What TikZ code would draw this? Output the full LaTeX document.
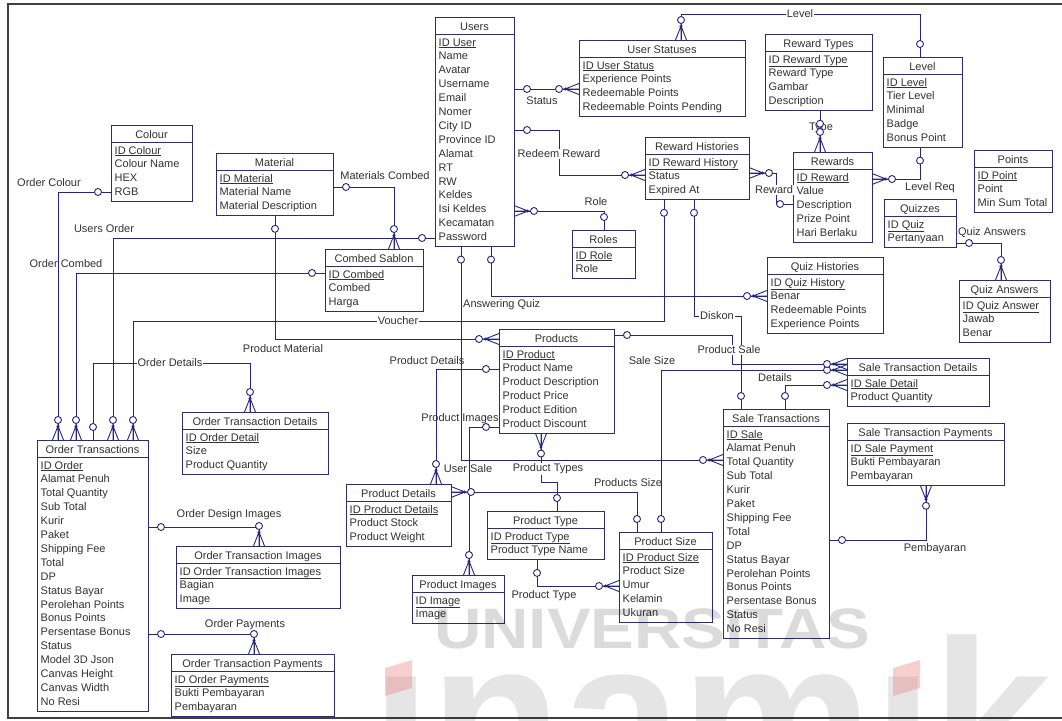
\documentclass[tikz,border=0pt]{standalone}
\usepackage{fontspec}
\setmainfont{Liberation Sans}
\usetikzlibrary{calc}

\definecolor{lc}{RGB}{38,38,130}
\definecolor{ec}{RGB}{45,45,115}
\definecolor{tx}{RGB}{50,50,50}
\definecolor{wmred}{RGB}{235,120,120}

\tikzset{
  ebox/.style={draw=ec,fill=white,line width=1pt,inner sep=0pt,outer sep=0pt},
  erule/.style={draw=ec,line width=1pt},
  etitle/.style={font=\fontsize{11}{13}\selectfont,text=tx,inner sep=0pt},
  erow/.style={font=\fontsize{11}{13}\selectfont,text=tx,inner sep=0pt},
  rel/.style={draw=lc,line width=0.9pt},
  lbl/.style={font=\fontsize{11}{13}\selectfont,text=tx,inner sep=1pt},
  lblw/.style={lbl,fill=white},
  wmtext/.style={text=black,text opacity=0.14,inner sep=0pt,anchor=base west},
  one/.pic={\draw[rel] (0pt,0pt)--(9.5pt,0pt);
            \draw[rel,fill=white] (13pt,0pt) circle[radius=3.5pt];},
  many/.pic={\draw[rel] (0pt,5.5pt)--(14pt,0pt)--(0pt,-5.5pt) (0pt,0pt)--(16.5pt,0pt);
             \fill[lc] (13.5pt,0pt) circle[radius=1.7pt];
             \draw[rel,fill=white] (20pt,0pt) circle[radius=3.5pt];},
}

% \entity{name}{x}{top}{width}{rows}{title}{key}{other attributes}
\newcommand\entity[8]{%
  \pgfmathsetmacro\entH{35+(#5-1)*13.9}%
  \node[ebox,minimum width=#4pt,minimum height=\entH pt,anchor=north west] (#1) at (#2,#3) {};
  \draw[erule] ($(#1.north west)+(0,17)$) -- ($(#1.north east)+(0,17)$);
  \node[etitle,anchor=base] (#1-title) at ($(#1.north)+(0,13)$) {#6};
  \node[erow,anchor=base west] (#1-key) at ($(#1.north west)+(3.5,29)$) {\underline{#7}};
  \foreach \r [count=\i] in {#8} {
    \node[erow,anchor=base west] (#1-row\i) at ($(#1.north west)+(3.5,29+\i*13.9)$) {\r};
  }%
}

\begin{document}
\begin{tikzpicture}[x=1pt,y=-1pt]
\useasboundingbox (0,0) rectangle (1062,720);
\fill[white] (0,0) rectangle (1062,720);

% frame (its right side lies beyond the page)
\draw[line width=2pt,draw=black!75] (1070,4) -- (8,4) -- (8,718) -- (1070,718);

% ---------- entities ----------
\entity{colour}{111}{125}{81}{4}{Colour}{ID Colour}{Colour Name,HEX,RGB}
\entity{users}{435}{17}{79}{15}{Users}{ID User}{Name,Avatar,Username,Email,Nomer,City ID,Province ID,Alamat,RT,RW,Keldes,Isi Keldes,Kecamatan,Password}
\entity{ustat}{579}{40}{166}{4}{User Statuses}{ID User Status}{Experience Points,Redeemable Points,Redeemable Points Pending}
\entity{rtypes}{765}{34}{107}{4}{Reward Types}{ID Reward Type}{Reward Type,Gambar,Description}
\entity{level}{883}{57}{79}{5}{Level}{ID Level}{Tier Level,Minimal,Badge,Bonus Point}
\entity{rewards}{793}{152}{79}{5}{Rewards}{ID Reward}{Value,Description,Prize Point,Hari Berlaku}
\entity{rhist}{645}{137}{104}{3}{Reward Histories}{ID Reward History}{Status,Expired At}
\entity{points}{974}{150}{78}{3}{Points}{ID Point}{Point,Min Sum Total}
\entity{quizzes}{884}{199}{72}{2}{Quizzes}{ID Quiz}{Pertanyaan}
\entity{roles}{572}{230}{63}{2}{Roles}{ID Role}{Role}
\entity{material}{216}{153}{117}{3}{Material}{ID Material}{Material Name,Material Description}
\entity{combed}{325}{249}{98}{3}{Combed Sablon}{ID Combed}{Combed,Harga}
\entity{otrans}{37}{440}{111}{18}{Order Transactions}{ID Order}{Alamat Penuh,Total Quantity,Sub Total,Kurir,Paket,Shipping Fee,Total,DP,Status Bayar,Perolehan Points,Bonus Points,Persentase Bonus,Status,Model 3D Json,Canvas Height,Canvas Width,No Resi}
\entity{otd}{182}{412}{146}{3}{Order Transaction Details}{ID Order Detail}{Size,Product Quantity}
\entity{oti}{176}{546}{164}{3}{Order Transaction Images}{ID Order Transaction Images}{Bagian,Image}
\entity{otp}{171}{654}{163}{3}{Order Transaction Payments}{ID Order Payments}{Bukti Pembayaran,Pembayaran}
\entity{products}{499}{329}{115}{6}{Products}{ID Product}{Product Name,Product Description,Product Price,Product Edition,Product Discount}
\entity{pdet}{346}{484}{105}{3}{Product Details}{ID Product Details}{Product Stock,Product Weight}
\entity{ptype}{487}{511}{117}{2}{Product Type}{ID Product Type}{Product Type Name}
\entity{pimg}{412}{575}{92}{2}{Product Images}{ID Image}{Image}
\entity{psize}{619}{532}{93}{5}{Product Size}{ID Product Size}{Product Size,Umur,Kelamin,Ukuran}
\entity{strans}{723}{409}{106}{15}{Sale Transactions}{ID Sale}{Alamat Penuh,Total Quantity,Sub Total,Kurir,Paket,Shipping Fee,Total,DP,Status Bayar,Perolehan Points,Bonus Points,Persentase Bonus,Status,No Resi}
\entity{std}{847}{358}{142}{2}{Sale Transaction Details}{ID Sale Detail}{Product Quantity}
\entity{stp}{847}{423}{157}{3}{Sale Transaction Payments}{ID Sale Payment}{Bukti Pembayaran,Pembayaran}
\entity{qhist}{767}{257}{116}{4}{Quiz Histories}{ID Quiz History}{Benar,Redeemable Points,Experience Points}
\entity{qans}{959}{280}{91}{3}{Quiz Answers}{ID Quiz Answer}{Jawab,Benar}

% ---------- relationships ----------
\draw[rel] (681,0 |- ustat.north) -- (681,14) -- (920,14) -- (920,0 |- level.north);
\draw[rel] (users.east |- 0,89) -- (ustat.west |- 0,89);
\draw[rel] (users.east |- 0,130) -- (559,130) -- (559,175) -- (rhist.west |- 0,175);
\draw[rel] (users.east |- 0,211) -- (604,211) -- (604,0 |- roles.north);
\draw[rel] (820,0 |- rtypes.south) -- (820,0 |- rewards.north);
\draw[rel] (rhist.east |- 0,173) -- (776,173) -- (776,204) -- (rewards.west |- 0,204);
\draw[rel] (920,0 |- level.south) -- (920,179) -- (rewards.east |- 0,179);
\draw[rel] (quizzes.east |- 0,243) -- (1001,243) -- (1001,0 |- qans.north);
\draw[rel] (material.east |- 0,187) -- (394,187) -- (394,0 |- combed.north);
\draw[rel] (users.west |- 0,238) -- (113,238) -- (113,0 |- otrans.north);
\draw[rel] (colour.west |- 0,192) -- (58,192) -- (58,0 |- otrans.north);
\draw[rel] (combed.west |- 0,273) -- (76,273) -- (76,0 |- otrans.north);
\draw[rel] (664,0 |- rhist.south) -- (664,321) -- (133,321) -- (133,0 |- otrans.north);
\draw[rel] (694,0 |- rhist.south) -- (694,316) -- (741,316) -- (741,0 |- strans.north);
\draw[rel] (491,0 |- users.south) -- (491,296) -- (qhist.west |- 0,296);
\draw[rel] (461,0 |- users.south) -- (461,460) -- (strans.west |- 0,460);
\draw[rel] (275,0 |- material.south) -- (275,339) -- (products.west |- 0,339);
\draw[rel] (93,0 |- otrans.north) -- (93,363) -- (250,363) -- (250,0 |- otd.north);
\draw[rel] (otrans.east |- 0,527) -- (259,527) -- (259,0 |- oti.north);
\draw[rel] (otrans.east |- 0,634) -- (254,634) -- (254,0 |- otp.north);
\draw[rel] (products.west |- 0,369) -- (436,369) -- (436,0 |- pdet.north);
\draw[rel] (products.west |- 0,427) -- (469,427) -- (469,0 |- pimg.north);
\draw[rel] (pdet.east |- 0,492) -- (637,492) -- (637,0 |- psize.north);
\draw[rel] (541,0 |- products.south) -- (541,482) -- (557,482) -- (557,0 |- ptype.north);
\draw[rel] (537,0 |- ptype.south) -- (537,586) -- (psize.west |- 0,586);
\draw[rel] (661,0 |- psize.north) -- (661,370) -- (std.west |- 0,370);
\draw[rel] (products.east |- 0,335) -- (732,335) -- (732,364) -- (std.west |- 0,364);
\draw[rel] (785,0 |- strans.north) -- (785,385) -- (std.west |- 0,385);
\draw[rel] (strans.east |- 0,540) -- (926,540) -- (926,0 |- stp.south);

% ---------- relationship names ----------
\node[lblw] (l-level) at (800,14) {Level};
\node[lbl] (l-status) at (542,101) {Status};
\node[lblw] (l-redeem) at (559,154) {Redeem Reward};
\node[lbl] (l-role) at (596,202) {Role};
\node[lbl] (l-type) at (821,128) {Type};
\node[lblw] (l-reward) at (774,190) {Reward};
\node[lbl] (l-levelreq) at (930,188) {Level Req};
\node[lbl] (l-qans) at (992,233) {Quiz Answers};
\node[lbl] (l-matc) at (385,176) {Materials Combed};
\node[lbl] (l-uorder) at (104,229) {Users Order};
\node[lbl] (l-ocolour) at (49,183) {Order Colour};
\node[lbl] (l-ocombed) at (66,264) {Order Combed};
\node[lblw] (l-voucher) at (398,321) {Voucher};
\node[lblw] (l-diskon) at (717,316) {Diskon};
\node[lbl,anchor=west] (l-aquiz) at (462,305) {Answering Quiz};
\node[lbl] (l-usale) at (468,469) {User Sale};
\node[lbl] (l-pmat) at (283,349) {Product Material};
\node[lblw] (l-odet) at (170,363) {Order Details};
\node[lbl] (l-odimg) at (229,515) {Order Design Images};
\node[lbl] (l-opay) at (245,625) {Order Payments};
\node[lbl] (l-pdet) at (427,361) {Product Details};
\node[lbl] (l-pimg) at (460,419) {Product Images};
\node[lbl] (l-psize) at (628,483) {Products Size};
\node[lblw] (l-ptypes) at (548,469) {Product Types};
\node[lbl] (l-ptype) at (544,596) {Product Type};
\node[lbl] (l-ssize) at (652,361) {Sale Size};
\node[lblw] (l-psale) at (729,350) {Product Sale};
\node[lbl] (l-details) at (775,378) {Details};
\node[lbl] (l-pemb) at (935,549) {Pembayaran};

% ---------- cardinality marks ----------
\pic[rotate=90] at (681,0 |- ustat.north) {many};
\pic[rotate=90] at (920,0 |- level.north) {one};
\pic at (users.east |- 0,89) {one};
\pic[rotate=180] at (ustat.west |- 0,89) {many};
\pic at (users.east |- 0,130) {one};
\pic[rotate=180] at (rhist.west |- 0,175) {many};
\pic at (users.east |- 0,211) {many};
\pic[rotate=90] at (604,0 |- roles.north) {one};
\pic[rotate=-90] at (820,0 |- rtypes.south) {one};
\pic[rotate=90] at (820,0 |- rewards.north) {many};
\pic at (rhist.east |- 0,173) {many};
\pic[rotate=180] at (rewards.west |- 0,204) {one};
\pic[rotate=-90] at (920,0 |- level.south) {one};
\pic at (rewards.east |- 0,179) {many};
\pic at (quizzes.east |- 0,243) {one};
\pic[rotate=90] at (1001,0 |- qans.north) {many};
\pic at (material.east |- 0,187) {one};
\pic[rotate=90] at (394,0 |- combed.north) {many};
\pic[rotate=180] at (users.west |- 0,238) {one};
\pic[rotate=90] at (113,0 |- otrans.north) {many};
\pic[rotate=180] at (colour.west |- 0,192) {one};
\pic[rotate=90] at (58,0 |- otrans.north) {many};
\pic[rotate=180] at (combed.west |- 0,273) {one};
\pic[rotate=90] at (76,0 |- otrans.north) {many};
\pic[rotate=-90] at (664,0 |- rhist.south) {one};
\pic[rotate=90] at (133,0 |- otrans.north) {many};
\pic[rotate=-90] at (694,0 |- rhist.south) {one};
\pic[rotate=90] at (741,0 |- strans.north) {one};
\pic[rotate=-90] at (491,0 |- users.south) {one};
\pic[rotate=180] at (qhist.west |- 0,296) {many};
\pic[rotate=-90] at (461,0 |- users.south) {one};
\pic[rotate=180] at (strans.west |- 0,460) {many};
\pic[rotate=-90] at (275,0 |- material.south) {one};
\pic[rotate=180] at (products.west |- 0,339) {many};
\pic[rotate=90] at (93,0 |- otrans.north) {one};
\pic[rotate=90] at (250,0 |- otd.north) {many};
\pic at (otrans.east |- 0,527) {one};
\pic[rotate=90] at (259,0 |- oti.north) {many};
\pic at (otrans.east |- 0,634) {one};
\pic[rotate=90] at (254,0 |- otp.north) {many};
\pic[rotate=180] at (products.west |- 0,369) {one};
\pic[rotate=90] at (436,0 |- pdet.north) {many};
\pic[rotate=180] at (products.west |- 0,427) {one};
\pic[rotate=90] at (469,0 |- pimg.north) {many};
\pic at (pdet.east |- 0,492) {many};
\pic[rotate=90] at (637,0 |- psize.north) {one};
\pic[rotate=-90] at (541,0 |- products.south) {many};
\pic[rotate=90] at (557,0 |- ptype.north) {one};
\pic[rotate=-90] at (537,0 |- ptype.south) {one};
\pic[rotate=180] at (psize.west |- 0,586) {many};
\pic[rotate=90] at (661,0 |- psize.north) {one};
\pic[rotate=180] at (std.west |- 0,370) {many};
\pic at (products.east |- 0,335) {one};
\pic[rotate=180] at (std.west |- 0,364) {many};
\pic[rotate=90] at (785,0 |- strans.north) {one};
\pic[rotate=180] at (std.west |- 0,385) {many};
\pic at (strans.east |- 0,540) {one};
\pic[rotate=-90] at (926,0 |- stp.south) {many};

% ---------- translucent watermark laid over the drawing ----------
\node[wmtext,font=\fontsize{57}{57}\selectfont\bfseries,xscale=1.15,transform shape] (wm-univ) at (434,648) {UNIVERSITAS};
\node[wmtext,text opacity=0.1,font=\fontsize{215}{215}\selectfont\bfseries] (wm-name) at (371,790) {ınamıka};
\fill[wmred,opacity=0.35] (385,668) -- (412,660) -- (412,688) -- (385,696) -- cycle;
\fill[wmred,opacity=0.35] (893,668) -- (920,660) -- (920,688) -- (893,696) -- cycle;
\end{tikzpicture}
\end{document}
